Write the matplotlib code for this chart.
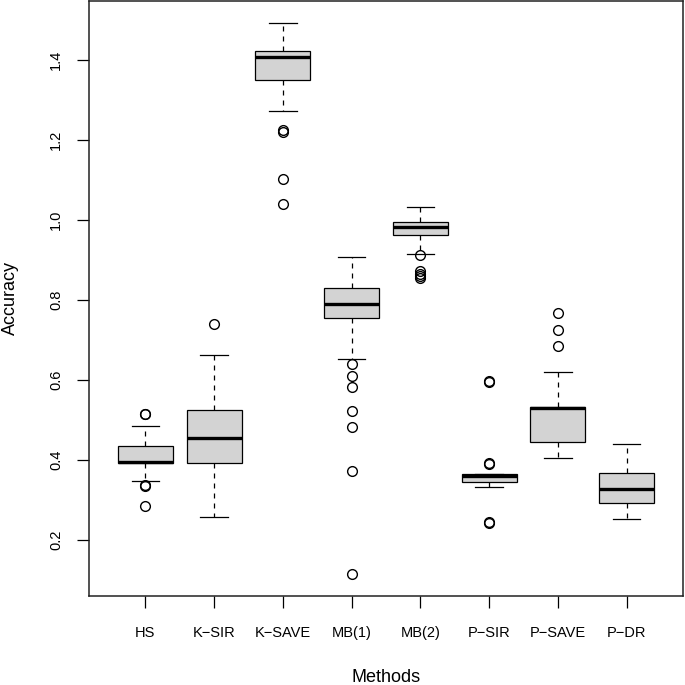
import matplotlib
matplotlib.use("Agg")
import matplotlib.pyplot as plt

plt.rcParams['font.family'] = ['Liberation Sans', 'DejaVu Sans']

# box statistics (R-style boxplot)
methods = ['HS', 'K\u2212SIR', 'K\u2212SAVE', 'MB(1)', 'MB(2)', 'P\u2212SIR', 'P\u2212SAVE', 'P\u2212DR']
q1 = [0.392, 0.392, 1.351, 0.756, 0.963, 0.345, 0.446, 0.293]
med = [0.396, 0.455, 1.407, 0.791, 0.982, 0.361, 0.530, 0.327]
q3 = [0.436, 0.524, 1.422, 0.831, 0.996, 0.365, 0.533, 0.367]
whislo = [0.348, 0.257, 1.273, 0.652, 0.915, 0.333, 0.405, 0.253]
whishi = [0.485, 0.662, 1.493, 0.908, 1.033, 0.365, 0.619, 0.440]
outliers = [
    [0.516, 0.514, 0.338, 0.334, 0.286],
    [0.739],
    [1.226, 1.221, 1.103, 1.039],
    [0.641, 0.610, 0.583, 0.522, 0.483, 0.373, 0.116],
    [0.913, 0.872, 0.866, 0.860, 0.855],
    [0.598, 0.596, 0.392, 0.389, 0.244, 0.242],
    [0.767, 0.726, 0.686],
    [],
]

stats = []
for i in range(len(methods)):
    stats.append(dict(label=methods[i], q1=q1[i], med=med[i], q3=q3[i],
                      whislo=whislo[i], whishi=whishi[i], fliers=outliers[i]))

fig = plt.figure(figsize=(6.85, 6.85), dpi=100)
ax = fig.add_axes([0.1299, 0.1299, 0.8671, 0.8686])

ax.bxp(stats, positions=range(1, len(methods) + 1), widths=0.8,
       patch_artist=True, showfliers=True,
       boxprops=dict(facecolor='#d3d3d3', edgecolor='black', linewidth=0.9),
       medianprops=dict(color='black', linewidth=2.4, solid_capstyle='butt'),
       whiskerprops=dict(color='black', linewidth=0.9, linestyle=(0, (4, 4))),
       capprops=dict(color='black', linewidth=0.9),
       capwidths=0.4,
       flierprops=dict(marker='o', markerfacecolor='none', markeredgecolor='black',
                       markersize=7, markeredgewidth=1.0))

ax.set_xlim(0.18, 8.82)
ax.set_ylim(0.06, 1.5475)
ax.set_yticks([0.2, 0.4, 0.6, 0.8, 1.0, 1.2, 1.4])
ax.set_yticklabels(['0.2', '0.4', '0.6', '0.8', '1.0', '1.2', '1.4'],
                   rotation=90, va='center')
ax.set_xticks(range(1, len(methods) + 1))
ax.set_xticklabels(methods)
ax.tick_params(axis='x', length=8.5, width=0.9, pad=13, labelsize=10.5)
ax.tick_params(axis='y', length=8.5, width=0.9, pad=10, labelsize=10.5)

for s in ax.spines.values():
    s.set_linewidth(1.1)
    s.set_color('#222222')

# axis titles placed as in the reference, near the figure edges
fig.text(386 / 685, 2.5 / 685, 'Methods', fontsize=13, ha='center', va='baseline')
fig.text(1.5 / 685, 1 - 298 / 685, 'Accuracy', fontsize=13, rotation=90,
         ha='left', va='center')

fig.savefig('out.png', dpi=100)
